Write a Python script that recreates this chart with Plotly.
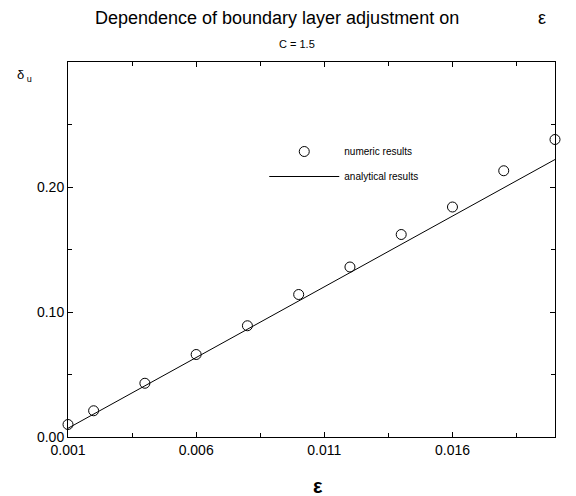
import plotly.graph_objects as go

eps_num = [0.001, 0.002, 0.004, 0.006, 0.008, 0.010, 0.012, 0.014, 0.016, 0.018, 0.020]
delta_num = [0.010, 0.021, 0.043, 0.066, 0.089, 0.114, 0.136, 0.162, 0.184, 0.213, 0.238]
eps_ana = [0.001, 0.020]
delta_ana = [0.007, 0.222]

x_ticks = [0.001, 0.006, 0.011, 0.016]
x_ticklabels = ["0.001", "0.006", "0.011", "0.016"]
y_ticks = [0.0, 0.10, 0.20]
y_ticklabels = ["0.00", "0.10", "0.20"]

FONT = "Liberation Sans, Arial, sans-serif"

fig = go.Figure()
fig.add_trace(go.Scatter(
    x=eps_num, y=delta_num, mode="markers", name="numeric results",
    legendgroup="a",
    marker=dict(symbol="circle-open", size=10, color="black", line=dict(width=1)),
    cliponaxis=False,
))
fig.add_trace(go.Scatter(
    x=eps_ana, y=delta_ana, mode="lines", name="analytical results",
    legendgroup="b",
    line=dict(color="black", width=1),
))

fig.update_layout(
    width=576, height=496,
    margin=dict(l=68, r=21, t=62, b=59),
    paper_bgcolor="white", plot_bgcolor="white",
    font=dict(family=FONT, color="black"),
    showlegend=True,
    legend=dict(x=0.403, y=0.80, xanchor="left", yanchor="top",
                bgcolor="rgba(0,0,0,0)", font=dict(size=10), itemwidth=70,
                tracegroupgap=6),
    title=dict(text="Dependence of boundary layer adjustment on",
               xref="container", x=0.481, xanchor="center",
               yref="container", y=0.964, yanchor="middle",
               font=dict(size=18, family=FONT)),
)

axis_common = dict(
    showgrid=False, zeroline=False, showline=True, linecolor="black", linewidth=1,
    mirror="ticks", ticks="inside", ticklen=5, tickcolor="black",
    tickfont=dict(size=14, family=FONT),
)
fig.update_xaxes(range=[0.001, 0.020], tickvals=x_ticks, ticktext=x_ticklabels,
                 minor=dict(tickvals=[0.0035, 0.0085, 0.0135, 0.0185], ticks="inside",
                            ticklen=4, tickcolor="black"),
                 **axis_common)
fig.update_yaxes(range=[0.0, 0.30], tickvals=y_ticks, ticktext=y_ticklabels,
                 minor=dict(tickvals=[0.05, 0.15, 0.25], ticks="inside",
                            ticklen=4, tickcolor="black"),
                 **axis_common)

fig.add_annotation(text="ε", xref="paper", yref="paper", x=0.986, y=1.0,
                   yshift=44, yanchor="middle", showarrow=False, font=dict(size=18))
fig.add_annotation(text="C = 1.5", xref="paper", yref="paper", x=0.47, y=1.0,
                   yshift=18, yanchor="middle", showarrow=False, font=dict(size=11))
fig.add_annotation(text="δ<sub> u</sub>", xref="paper", yref="paper", x=0, y=1.0,
                   xshift=-44, yshift=-13, xanchor="center", yanchor="middle",
                   showarrow=False, font=dict(size=13))
fig.add_annotation(text="<b>ε</b>", xref="paper", yref="paper", x=0.513, y=0,
                   yshift=-49, yanchor="middle", showarrow=False, font=dict(size=20))

fig.write_html("out.html")
